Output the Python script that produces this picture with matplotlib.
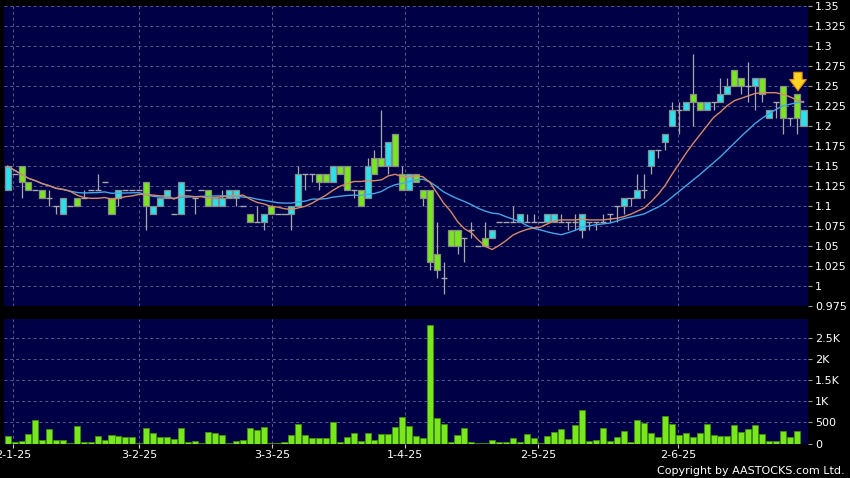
import matplotlib
matplotlib.use('Agg')
import matplotlib.pyplot as plt
import numpy as np
import pandas as pd

# ---------------- data ----------------
opens = [1.12, 1.14, 1.15, 1.13, 1.12, 1.12, 1.11, 1.10, 1.09, 1.10,
         1.11, 1.11, 1.12, 1.12, 1.13, 1.11, 1.11, 1.12, 1.12, 1.12,
         1.13, 1.09, 1.10, 1.11, 1.09, 1.09, 1.12, 1.11, 1.12, 1.12,
         1.10, 1.10, 1.11, 1.11, 1.10, 1.09, 1.08, 1.08, 1.10, 1.09,
         1.09, 1.09, 1.10, 1.14, 1.14, 1.14, 1.14, 1.13, 1.15, 1.15,
         1.12, 1.12, 1.11, 1.16, 1.16, 1.15, 1.19, 1.14, 1.12, 1.14,
         1.12, 1.12, 1.04, 1.01, 1.07, 1.07, 1.06, 1.07, 1.05, 1.06,
         1.06, 1.08, 1.08, 1.08, 1.08, 1.08, 1.08, 1.08, 1.08, 1.08,
         1.08, 1.08, 1.08, 1.07, 1.08, 1.08, 1.08, 1.09, 1.10, 1.10,
         1.11, 1.11, 1.12, 1.15, 1.17, 1.18, 1.20, 1.22, 1.22, 1.24,
         1.23, 1.22, 1.23, 1.23, 1.24, 1.27, 1.26, 1.25, 1.25, 1.26,
         1.21, 1.23, 1.25, 1.21, 1.24, 1.20]
highs = [1.15, 1.14, 1.15, 1.13, 1.12, 1.12, 1.12, 1.10, 1.11, 1.10,
         1.11, 1.12, 1.12, 1.14, 1.13, 1.11, 1.12, 1.12, 1.12, 1.12,
         1.13, 1.10, 1.11, 1.12, 1.09, 1.13, 1.12, 1.11, 1.12, 1.12,
         1.11, 1.12, 1.12, 1.12, 1.10, 1.09, 1.10, 1.09, 1.10, 1.09,
         1.09, 1.10, 1.15, 1.14, 1.14, 1.14, 1.14, 1.15, 1.15, 1.15,
         1.12, 1.12, 1.16, 1.17, 1.22, 1.18, 1.19, 1.15, 1.14, 1.14,
         1.12, 1.12, 1.08, 1.03, 1.07, 1.07, 1.06, 1.08, 1.05, 1.08,
         1.07, 1.08, 1.08, 1.10, 1.09, 1.09, 1.09, 1.08, 1.09, 1.09,
         1.09, 1.08, 1.09, 1.09, 1.08, 1.08, 1.09, 1.09, 1.10, 1.11,
         1.11, 1.14, 1.14, 1.17, 1.17, 1.19, 1.23, 1.23, 1.23, 1.29,
         1.23, 1.23, 1.23, 1.26, 1.26, 1.27, 1.26, 1.28, 1.26, 1.26,
         1.22, 1.23, 1.25, 1.21, 1.24, 1.22]
lows = [1.12, 1.14, 1.11, 1.12, 1.12, 1.11, 1.10, 1.09, 1.09, 1.10,
        1.10, 1.11, 1.12, 1.12, 1.13, 1.09, 1.10, 1.12, 1.12, 1.12,
        1.07, 1.09, 1.10, 1.11, 1.09, 1.09, 1.12, 1.09, 1.12, 1.10,
        1.10, 1.10, 1.11, 1.10, 1.10, 1.08, 1.08, 1.07, 1.09, 1.09,
        1.09, 1.07, 1.10, 1.12, 1.13, 1.12, 1.13, 1.13, 1.14, 1.12,
        1.11, 1.10, 1.11, 1.14, 1.15, 1.14, 1.15, 1.12, 1.12, 1.13,
        1.10, 1.02, 1.01, 0.99, 1.05, 1.04, 1.03, 1.06, 1.05, 1.05,
        1.06, 1.08, 1.08, 1.08, 1.08, 1.08, 1.08, 1.08, 1.08, 1.08,
        1.08, 1.07, 1.07, 1.06, 1.07, 1.07, 1.08, 1.08, 1.08, 1.09,
        1.10, 1.11, 1.11, 1.14, 1.16, 1.17, 1.20, 1.19, 1.22, 1.20,
        1.22, 1.22, 1.22, 1.23, 1.24, 1.25, 1.24, 1.23, 1.22, 1.23,
        1.21, 1.21, 1.19, 1.20, 1.19, 1.20]
closes = [1.15, 1.14, 1.13, 1.12, 1.12, 1.11, 1.11, 1.10, 1.11, 1.10,
          1.10, 1.11, 1.12, 1.12, 1.13, 1.09, 1.12, 1.12, 1.12, 1.12,
          1.10, 1.10, 1.11, 1.12, 1.09, 1.13, 1.12, 1.11, 1.12, 1.10,
          1.11, 1.11, 1.12, 1.12, 1.10, 1.08, 1.08, 1.09, 1.09, 1.09,
          1.09, 1.10, 1.14, 1.14, 1.14, 1.13, 1.13, 1.15, 1.14, 1.12,
          1.12, 1.10, 1.15, 1.14, 1.15, 1.18, 1.15, 1.12, 1.14, 1.13,
          1.11, 1.03, 1.02, 1.01, 1.05, 1.05, 1.06, 1.07, 1.05, 1.05,
          1.07, 1.08, 1.08, 1.08, 1.09, 1.08, 1.08, 1.08, 1.09, 1.09,
          1.08, 1.08, 1.08, 1.09, 1.08, 1.08, 1.08, 1.09, 1.10, 1.11,
          1.11, 1.12, 1.12, 1.17, 1.17, 1.19, 1.22, 1.22, 1.23, 1.23,
          1.22, 1.23, 1.23, 1.24, 1.25, 1.25, 1.25, 1.25, 1.26, 1.24,
          1.22, 1.23, 1.21, 1.21, 1.21, 1.22]
volumes = [190, 25, 65, 215, 570, 80, 340, 80, 80, 5,
           405, 40, 25, 175, 95, 200, 190, 150, 150, 15,
           380, 260, 165, 150, 100, 365, 40, 55, 5, 285,
           245, 200, 15, 65, 80, 380, 315, 390, 10, 5,
           40, 200, 460, 200, 120, 120, 135, 510, 25, 165,
           240, 50, 255, 95, 215, 215, 400, 620, 415, 190,
           125, 2820, 600, 470, 30, 200, 380, 30, 5, 15,
           80, 25, 25, 120, 25, 215, 125, 5, 190, 270,
           335, 110, 435, 795, 50, 90, 375, 55, 145, 295,
           25, 570, 490, 240, 160, 650, 470, 200, 240, 145,
           260, 460, 205, 190, 175, 445, 270, 335, 445, 220,
           50, 50, 295, 160, 295, 0]
date_labels = ["2-1-25", "3-2-25", "3-3-25", "1-4-25", "2-5-25", "2-6-25"]
date_tick_pos = [0.81, 19.02, 38.24, 57.46, 76.67, 96.9]
price_ticks = [0.975, 1.0, 1.025, 1.05, 1.075, 1.1, 1.125, 1.15, 1.175,
               1.2, 1.225, 1.25, 1.275, 1.3, 1.325, 1.35]
vol_ticks = [0, 500, 1000, 1500, 2000, 2500]
vol_tick_labels = ["0", "500", "1K", "1.5K", "2K", "2.5K"]

# ---------------- styling ----------------
BG = 'black'
PANEL = '#000046'
GRID = '#5a5a8e'
CYAN = '#28e2ef'
GREEN = '#78e81c'
EDGE = '#8a8a8a'
WICK = '#a8a8a8'
MA10_C = '#d98a62'
MA20_C = '#45a6e6'

W, H = 850, 478
fig = plt.figure(figsize=(W / 100, H / 100), dpi=100, facecolor=BG)


def rect(l, t, r, b):
    return [l / W, 1 - b / H, (r - l) / W, (b - t) / H]


ax = fig.add_axes(rect(4, 6.3, 808, 306.3))
axv = fig.add_axes(rect(4, 319, 808, 443.5))

n = len(closes)
x = np.arange(n)
o = np.array(opens); h = np.array(highs); l = np.array(lows); c = np.array(closes)
bw = 0.87

for a in (ax, axv):
    a.set_facecolor(PANEL)
    for s in a.spines.values():
        s.set_visible(False)
    a.set_xlim(-0.535, 115.65)
    a.yaxis.tick_right()
    a.tick_params(axis='y', colors='#9a9a9a', length=3, width=0.8, labelcolor='white',
                  labelsize=8, pad=2)
    a.set_xticks(date_tick_pos)
    a.grid(True, color=GRID, linestyle=(0, (3, 3)), linewidth=0.7)
    a.set_axisbelow(True)

ax.set_ylim(0.975, 1.35)
ax.set_yticks(price_ticks)
ax.set_yticklabels(['%g' % v for v in price_ticks])
ax.tick_params(axis='x', length=0, labelbottom=False)

axv.set_ylim(0, 2960)
axv.set_yticks(vol_ticks)
axv.set_yticklabels(vol_tick_labels)
axv.set_xticklabels(date_labels)
axv.tick_params(axis='x', colors='#cfcfcf', length=3, width=0.8, labelcolor='white',
                labelsize=8, pad=2)

# wicks
ax.vlines(x, l, h, color=WICK, linewidth=0.9, zorder=2)
up = c > o
dn = c < o
flat = c == o
ax.bar(x[up], (c - o)[up], bottom=o[up], width=bw, color=CYAN, edgecolor=EDGE,
       linewidth=0.9, zorder=3)
ax.bar(x[dn], (o - c)[dn], bottom=c[dn], width=bw, color=GREEN, edgecolor=EDGE,
       linewidth=0.9, zorder=3)
ax.hlines(c[flat], x[flat] - bw / 2, x[flat] + bw / 2, color=WICK, linewidth=1.0, zorder=3)

# moving averages
cs = pd.Series(closes)
ma10 = cs.rolling(10, min_periods=1).mean()
ma20 = cs.rolling(20, min_periods=1).mean()
ax.plot(x, ma20, color=MA20_C, linewidth=1.0, zorder=4)
ax.plot(x, ma10, color=MA10_C, linewidth=1.0, zorder=4)

# arrow marker over the second-last bar
ax.annotate('', xy=(n - 2 + 0.2, highs[n - 2] + 0.001), xytext=(n - 2 + 0.2, highs[n - 2] + 0.031),
            arrowprops=dict(arrowstyle='simple,head_width=1.2,head_length=0.8,tail_width=0.6',
                            fc='#ffd224', ec='#e0900a', lw=0.8), zorder=6)

# volume
axv.bar(x, volumes, width=bw, color=GREEN, edgecolor='#3f8f10', linewidth=0.6, zorder=3)

fig.text(845 / W, 1 - 471 / H, 'Copyright by AASTOCKS.com Ltd.', color='white',
         fontsize=8, ha='right', va='center')

fig.savefig('out.png', dpi=100, facecolor=BG)
